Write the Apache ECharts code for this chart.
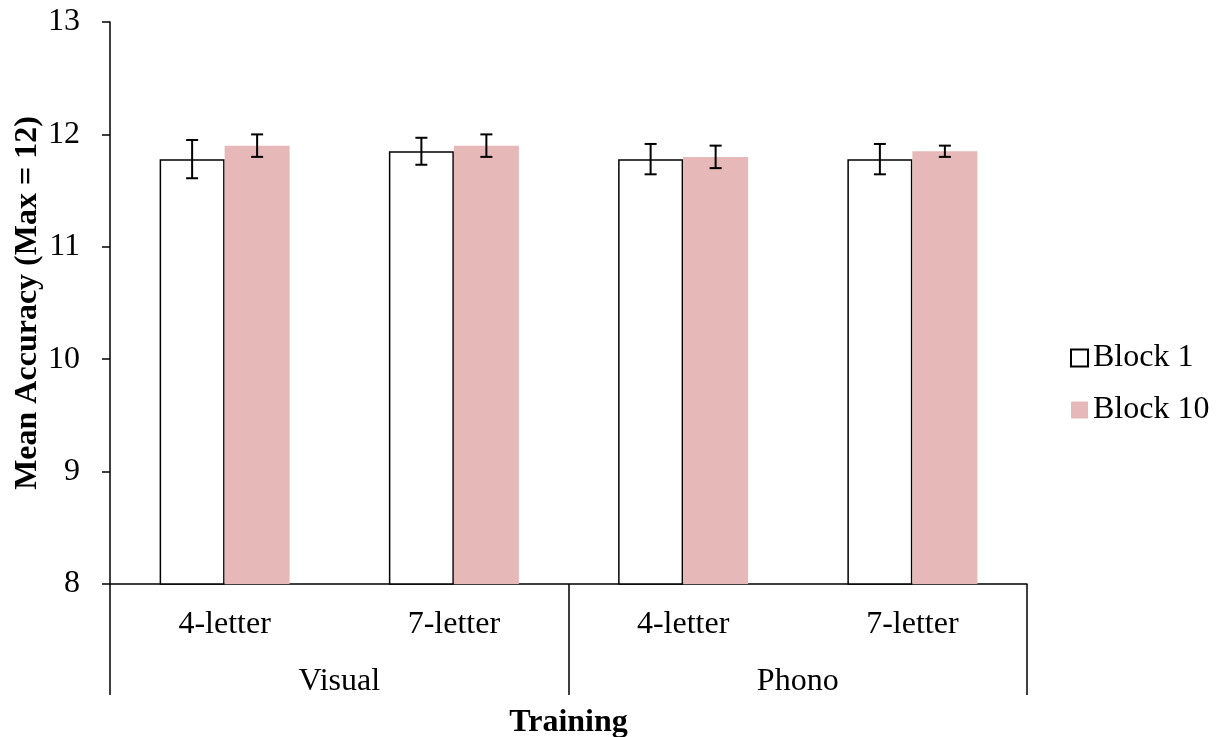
<!DOCTYPE html>
<html>
<head>
<meta charset="utf-8">
<script src="https://cdn.jsdelivr.net/npm/echarts@6/dist/echarts.min.js"></script>
<style>
  html, body { margin: 0; padding: 0; background: #fff; }
  #chart { width: 1226px; height: 737px; }
</style>
</head>
<body>
<div id="chart"></div>
<script>
// Word length conditions and training groups
const conditions = ['4-letter', '7-letter', '4-letter', '7-letter'];
const groups = ['Visual', 'Phono'];
const seriesNames = ['Block 1', 'Block 10'];

// Mean accuracy per condition (max = 12)
const block1 = [11.78, 11.85, 11.78, 11.78];
const block10 = [11.90, 11.90, 11.80, 11.85];

// Standard errors
const block1Err = [0.17, 0.12, 0.135, 0.135];
const block10Err = [0.10, 0.10, 0.10, 0.05];

// Y-axis range
const yMin = 8, yMax = 13, yStep = 1;

const FONT = '"Liberation Serif", "Times New Roman", serif';
const FS = 32;
const BAR_W = 65;

function errorSeries(name, means, errs, side) {
  const data = means.map((m, i) => [i, m - errs[i], m + errs[i]]);
  return {
    type: 'custom',
    name: name + ' SE',
    xAxisIndex: 0,
    yAxisIndex: 0,
    z: 10,
    silent: true,
    data: data,
    encode: { x: 0, y: [1, 2] },
    renderItem: function (params, api) {
      const idx = api.value(0);
      const lo = api.coord([idx, api.value(1)]);
      const hi = api.coord([idx, api.value(2)]);
      const x = lo[0] + side * BAR_W / 2;
      const cap = 6;
      const style = { stroke: '#000', lineWidth: 2 };
      return {
        type: 'group',
        children: [
          { type: 'line', shape: { x1: x, y1: lo[1], x2: x, y2: hi[1] }, style: style },
          { type: 'line', shape: { x1: x - cap, y1: lo[1], x2: x + cap, y2: lo[1] }, style: style },
          { type: 'line', shape: { x1: x - cap, y1: hi[1], x2: x + cap, y2: hi[1] }, style: style }
        ]
      };
    }
  };
}

const chart = echarts.init(document.getElementById('chart'), null, { renderer: 'canvas' });
chart.setOption({
  backgroundColor: '#fff',
  animation: false,
  textStyle: { fontFamily: FONT, color: '#000' },
  grid: { left: 110, right: 199, top: 22, bottom: 153, containLabel: false, outerBoundsMode: 'none' },
  legend: {
    orient: 'vertical',
    left: 1065,
    top: 337,
    itemWidth: 17,
    itemHeight: 17,
    itemGap: 20,
    icon: 'rect',
    data: seriesNames,
    textStyle: { fontFamily: FONT, fontSize: FS, color: '#000' }
  },
  xAxis: [
    {
      type: 'category',
      data: conditions,
      position: 'bottom',
      axisLine: { show: true, lineStyle: { color: '#000', width: 1.5 } },
      axisTick: { show: false },
      axisLabel: { fontFamily: FONT, fontSize: FS, color: '#000', margin: 25 },
      splitLine: { show: false }
    },
    {
      type: 'category',
      data: groups,
      position: 'bottom',
      offset: 0,
      axisLine: { show: false },
      axisTick: { show: true, inside: false, length: 111, lineStyle: { color: '#000', width: 1.5 } },
      axisLabel: { fontFamily: FONT, fontSize: FS, color: '#000', margin: 82 },
      splitLine: { show: false },
      name: 'Training',
      nameLocation: 'middle',
      nameGap: 123,
      nameMoveOverlap: false,
      nameTextStyle: { fontFamily: FONT, fontSize: FS, fontWeight: 'bold', color: '#000' }
    }
  ],
  yAxis: {
    type: 'value',
    min: yMin,
    max: yMax,
    interval: yStep,
    name: 'Mean Accuracy (Max = 12)',
    nameLocation: 'middle',
    nameGap: 66,
    nameMoveOverlap: false,
    nameTextStyle: { fontFamily: FONT, fontSize: FS, fontWeight: 'bold', color: '#000' },
    axisLine: { show: true, lineStyle: { color: '#000', width: 1.5 } },
    axisTick: { show: true, inside: false, length: 8, lineStyle: { color: '#000', width: 1.5 } },
    axisLabel: { fontFamily: FONT, fontSize: FS, color: '#000', margin: 30 },
    splitLine: { show: false }
  },
  series: [
    {
      name: seriesNames[0],
      type: 'bar',
      data: block1,
      barWidth: BAR_W,
      barGap: '0%',
      itemStyle: { color: '#fff', borderColor: '#000', borderWidth: 1.5 }
    },
    {
      name: seriesNames[1],
      type: 'bar',
      data: block10,
      barWidth: BAR_W,
      barGap: '0%',
      itemStyle: { color: '#e6b8b7' }
    },
    errorSeries(seriesNames[0], block1, block1Err, -1),
    errorSeries(seriesNames[1], block10, block10Err, 1)
  ]
});
</script>
</body>
</html>
